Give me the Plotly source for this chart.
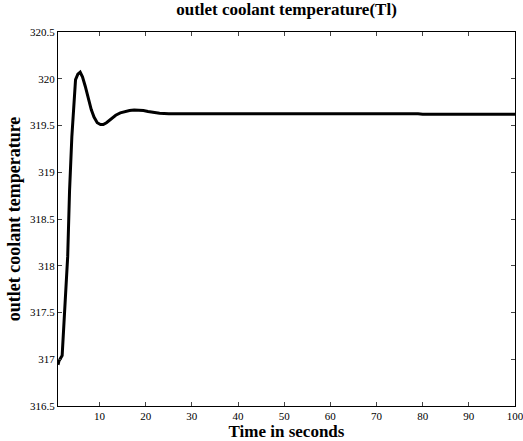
import plotly.graph_objects as go

time_s = [1, 1.2, 1.9, 2.5, 3.1, 3.5, 4.0, 4.8, 5.3, 5.8, 6.3, 6.9, 7.5, 8.2, 8.8, 9.5, 10.2,
          10.8, 11.5, 12.5, 13.5, 14.5, 15.5, 16.5, 17.5, 18.5, 19.5, 20.5, 21.5, 23, 25,
          28, 31, 32, 35, 41, 42, 50, 60, 70, 79, 80, 90, 100]
temp = [316.94, 316.98, 317.04, 317.56, 318.10, 318.80, 319.38, 319.99, 320.05, 320.07,
        320.02, 319.92, 319.80, 319.67, 319.59, 319.53, 319.51, 319.51, 319.53, 319.57,
        319.61, 319.635, 319.65, 319.66, 319.665, 319.665, 319.66, 319.65, 319.64,
        319.63, 319.625, 319.625, 319.625, 319.63, 319.63, 319.63, 319.625, 319.625,
        319.625, 319.625, 319.625, 319.62, 319.62, 319.62]

x_ticks = [10, 20, 30, 40, 50, 60, 70, 80, 90, 100]
y_ticks = [316.5, 317, 317.5, 318, 318.5, 319, 319.5, 320, 320.5]
y_ticktext = ["316.5", "317", "317.5", "318", "318.5", "319", "319.5", "320", "320.5"]

fig = go.Figure()
fig.add_trace(go.Scatter(x=time_s, y=temp, mode="lines",
                         line=dict(color="black", width=3),
                         showlegend=False))

font = "Liberation Serif, Times New Roman, serif"
fig.update_layout(
    width=523, height=441,
    margin=dict(l=58, r=8, t=32, b=35),
    paper_bgcolor="white", plot_bgcolor="white",
    font=dict(family=font, color="black", size=11),
    title=dict(text="<b>outlet coolant temperature(Tl)</b>", x=0.5, xref="paper",
               xanchor="center", y=0.992, yanchor="top", font=dict(size=17, family=font)),
    xaxis=dict(range=[1, 100], tickvals=x_ticks, ticks="inside", ticklen=4,
               showline=True, linecolor="black", linewidth=1, mirror="ticks",
               showgrid=False, zeroline=False, tickfont=dict(size=11), automargin=False,
               ticklabeloverflow="allow",
               title=dict(text="<b>Time in seconds</b>", font=dict(size=17), standoff=1)),
    yaxis=dict(range=[316.5, 320.5], tickvals=y_ticks, ticktext=y_ticktext,
               ticks="inside", ticklen=4, automargin=False, ticklabeloverflow="allow",
               showline=True, linecolor="black", linewidth=1, mirror="ticks",
               showgrid=False, zeroline=False, tickfont=dict(size=11),
               title=dict(text="<b>outlet coolant temperature</b>", font=dict(size=18), standoff=4)),
)

fig.write_html("out.html")
